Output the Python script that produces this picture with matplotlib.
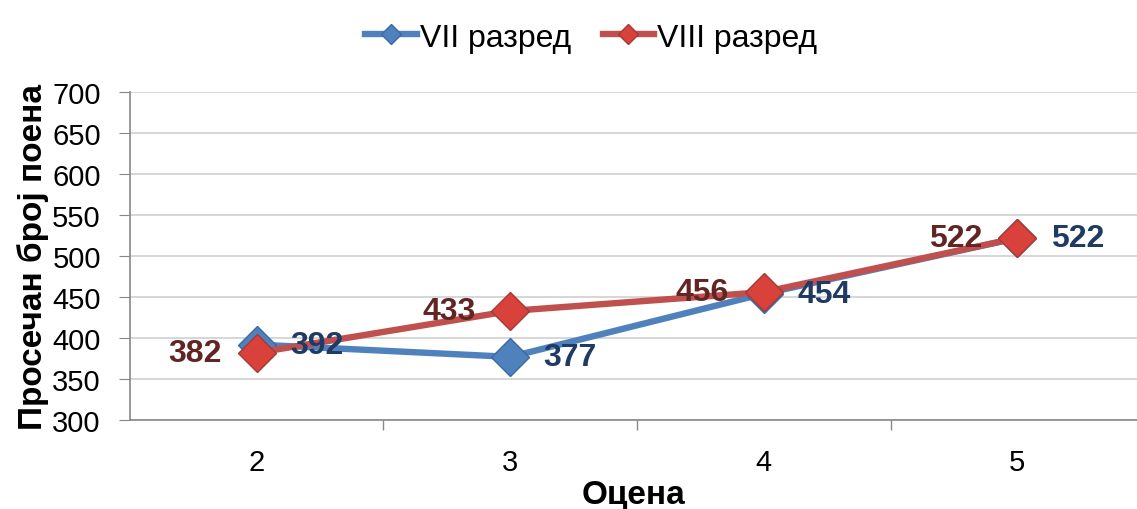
import numpy as np
import matplotlib.pyplot as plt

grades = ['2', '3', '4', '5']
vii_scores = [392, 377, 454, 522]
viii_scores = [382, 433, 456, 522]

plt.rcParams['font.family'] = ['Liberation Sans', 'DejaVu Sans']

blue = '#4F81BD'
red = '#C0504D'
blue_text = '#1F3A63'
red_text = '#632523'

fig = plt.figure(figsize=(11.37, 5.10), dpi=100)
ax = fig.add_axes([0.1143, 0.1745, 0.8857, 0.643])

x = np.arange(2, 6)
ax.plot(x, vii_scores, color=blue, linewidth=4.6, marker='D', markersize=19,
        markerfacecolor=blue, markeredgecolor='#3A6AA5', markeredgewidth=1,
        label='VII разред', zorder=3)
ax.plot(x, viii_scores, color=red, linewidth=4.6, marker='D', markersize=19,
        markerfacecolor='#D9413B', markeredgecolor='#A33A36', markeredgewidth=1,
        label='VIII разред', zorder=4)

for xi, v in zip(x, vii_scores):
    ax.annotate(str(v), (xi, v), xytext=(24, 0), textcoords='offset points',
                ha='left', va='center', fontsize=23, fontweight='bold',
                color=blue_text, zorder=5)
for xi, v in zip(x, viii_scores):
    ax.annotate(str(v), (xi, v), xytext=(-25, 0), textcoords='offset points',
                ha='right', va='center', fontsize=23, fontweight='bold',
                color=red_text, zorder=5)

ax.set_xlim(1.5, 5.472)
ax.set_ylim(300, 700)
ax.set_yticks(np.arange(300, 701, 50))
ax.set_xticks(x)
ax.set_xticklabels(grades)
ax.set_xticks([2.5, 3.5, 4.5], minor=True)
ax.tick_params(axis='x', which='major', length=0, labelsize=21, pad=20)
ax.tick_params(axis='x', which='minor', length=7, color='#888888', width=1)
ax.tick_params(axis='y', length=8, color='#888888', labelsize=21, pad=13)

ax.grid(axis='y', color='#D0D0D0', linewidth=1.2)
ax.set_axisbelow(True)
for s in ['top', 'right']:
    ax.spines[s].set_visible(False)
ax.spines['left'].set_color('#888888')
ax.spines['bottom'].set_color('#888888')
ax.spines['left'].set_linewidth(1.2)
ax.spines['bottom'].set_linewidth(1.2)

ax.set_xlabel('Оцена', fontsize=24, fontweight='bold', labelpad=2)
ax.set_ylabel('Просечан број поена', fontsize=24, fontweight='bold', labelpad=2)

fig.legend(loc='upper center', bbox_to_anchor=(0.52, 1.01), ncol=2, frameon=False,
           fontsize=23, handlelength=1.6, markerscale=0.55, columnspacing=1.0,
           handletextpad=0.1)

fig.savefig('out.png', dpi=100)
